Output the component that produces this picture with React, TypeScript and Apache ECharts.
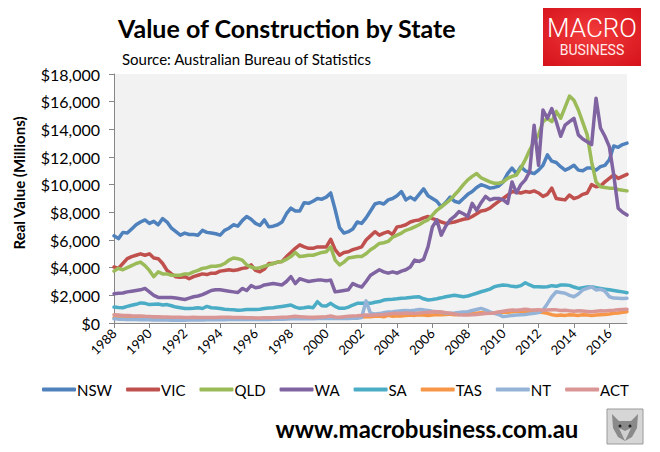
import React, { useEffect, useRef } from "react";
import * as echarts from "echarts";

// Quarterly real value of construction, $ millions, 1988 Q1 – 2017 Q1
const START_YEAR = 1988;
const N_POINTS = 117;

const seriesNames = ["NSW", "VIC", "QLD", "WA", "SA", "TAS", "NT", "ACT"];
const seriesColors = ["#4F81BD", "#C0504D", "#9BBB59", "#8064A2", "#4BACC6", "#F79646", "#95B3D7", "#D99694"];

const nsw = [
  6300, 6100, 6550, 6500,
  6800, 7100, 7300, 7450,
  7200, 7350, 7100, 7550,
  7300, 6850, 6600, 6350,
  6500, 6400, 6400, 6350,
  6700, 6550, 6500, 6450,
  6350, 6700, 6850, 7100,
  7000, 7400, 7700, 7500,
  7200, 7050, 7450, 6950,
  7000, 7100, 7300, 7900,
  8300, 8100, 8100, 8700,
  8650, 8800, 9000, 8950,
  9100, 9400, 8200, 6900,
  6500, 6600, 6800, 7300,
  7200, 7600, 8100, 8600,
  8700, 8600, 8900, 9000,
  9200, 9500, 8900, 9100,
  8900, 9300, 9700, 9200,
  9000, 8800, 8400, 8700,
  9100, 8800, 8700, 9000,
  9300, 9500, 9800, 10000,
  9900, 9750, 9800, 9900,
  10200, 10800, 11200, 10800,
  11300, 11000, 10900, 10800,
  11050, 11400, 12150, 11700,
  11600, 11300, 11050, 11200,
  11400, 11050, 11000, 11200,
  11200, 11050, 11300, 11400,
  11800, 12800, 12700, 12900,
  13000,
];

const vic = [
  4050, 3950, 4300, 4650,
  4800, 4900, 5000, 4900,
  5000, 4700, 4650, 4300,
  3800, 3550, 3350, 3300,
  3350, 3200, 3350, 3450,
  3550, 3500, 3600, 3600,
  3750, 3800, 3850, 3800,
  3850, 3950, 4000, 4200,
  3800, 3700, 3900, 4300,
  4300, 4400, 4450, 4800,
  5100, 5400, 5650, 5500,
  5400, 5400, 5500, 5500,
  5500, 6050, 5300, 4900,
  5100, 5150, 5300, 5400,
  5500, 6000, 6300, 6600,
  6350, 6500, 6600, 6400,
  6950, 7000, 7100, 7300,
  7400, 7450, 7600, 7700,
  7550, 7450, 7300, 7200,
  7250, 7300, 7400, 7500,
  7550, 7700, 7900, 8100,
  8150, 8300, 8550, 8800,
  9000, 9250, 9500, 9450,
  9400, 9500, 9450, 9550,
  9400, 9150, 9300, 9750,
  9000, 8950, 8900, 9250,
  9000, 9100, 9300, 9400,
  10000, 9850, 9900, 10200,
  10450, 10700, 10450, 10600,
  10750,
];

const qld = [
  3750, 3950, 3850, 4000,
  4150, 4300, 4400, 4150,
  3800, 3350, 3700, 3550,
  3550, 3450, 3450, 3450,
  3550, 3550, 3700, 3800,
  3950, 4000, 4100, 4100,
  4150, 4300, 4550, 4700,
  4650, 4550, 4200, 4050,
  3950, 4000, 4100, 4200,
  4300, 4400, 4450, 4600,
  4800, 5100, 4800, 4850,
  4900, 4900, 5000, 5100,
  5150, 5500, 4550, 4200,
  4400, 4700, 4750, 4800,
  4800, 5000, 5300, 5500,
  5750, 5800, 5900, 6200,
  6350, 6500, 6700, 6800,
  6950, 7100, 7300, 7450,
  7800, 8150, 8400, 8650,
  8900, 9250, 9600, 10000,
  10350, 10600, 10800, 10500,
  10350, 10200, 10100, 10100,
  10200, 10450, 10600, 10700,
  11200, 11800, 12500, 13100,
  13600, 14550, 14800, 14550,
  15300, 14800, 15600, 16400,
  16100, 15400, 14500, 13600,
  11650, 10200, 9850, 9800,
  9750, 9750, 9650, 9600,
  9550,
];

const wa = [
  2120, 2150, 2170, 2250,
  2300, 2350, 2400, 2500,
  2250, 2000, 1850, 1850,
  1850, 1850, 1800, 1750,
  1700, 1800, 1900, 1950,
  2050, 2200, 2350, 2400,
  2400, 2350, 2300, 2250,
  2200, 2500, 2350, 2700,
  2550, 2600, 2750, 2800,
  2850, 2800, 2750, 3000,
  3350, 2850, 3200, 3100,
  3000, 3050, 3100, 3100,
  3050, 3100, 2250, 2300,
  2350, 2400, 2850, 2700,
  2600, 3000, 3450, 3650,
  3850, 3700, 3600, 3700,
  3600, 3750, 3850, 4050,
  4550, 4450, 4600, 5500,
  6950, 7450, 6350, 7000,
  7450, 7700, 8050, 7900,
  7700, 8650, 8150, 8700,
  9150, 8900, 9000, 9000,
  8900, 8650, 10200, 9400,
  10000, 10350, 10950, 14300,
  11400, 15400, 14800, 15500,
  14550, 13500, 14300, 14550,
  14800, 13600, 13300, 13100,
  12900, 16250, 14100, 13500,
  12750, 10700, 8300, 8000,
  7800,
];

const sa = [
  1150, 1120, 1100, 1200,
  1280, 1350, 1450, 1420,
  1330, 1350, 1370, 1300,
  1330, 1250, 1150, 1100,
  1050, 1050, 1060, 1100,
  1050, 1200, 1100, 1080,
  1050, 1000, 970, 950,
  920, 940, 970, 970,
  970, 990, 1050, 1080,
  1100, 1150, 1200, 1250,
  1300, 1150, 1060, 1100,
  1150, 1100, 1540, 1250,
  1230, 1420, 1200, 1060,
  1060, 1150, 1300, 1420,
  1420, 1450, 1420, 1500,
  1550, 1660, 1700, 1720,
  1750, 1790, 1800, 1850,
  1880, 1900, 1750, 1660,
  1700, 1750, 1820, 1900,
  1950, 2000, 1950, 1900,
  1950, 2050, 2150, 2260,
  2350, 2450, 2620, 2700,
  2750, 2720, 2650, 2620,
  2700, 2910, 2750, 2620,
  2620, 2600, 2620, 2700,
  2650, 2750, 2750, 2720,
  2600, 2500, 2550, 2600,
  2620, 2550, 2500, 2450,
  2400, 2350, 2300, 2250,
  2190,
];

const tas = [
  380, 370, 380, 400,
  420, 420, 400, 400,
  380, 370, 350, 340,
  330, 320, 320, 310,
  310, 300, 310, 320,
  320, 330, 330, 340,
  340, 350, 350, 340,
  340, 330, 330, 320,
  320, 310, 310, 300,
  300, 310, 320, 330,
  350, 360, 370, 380,
  380, 390, 400, 400,
  400, 420, 380, 360,
  360, 380, 400, 420,
  440, 450, 460, 480,
  500, 450, 550, 480,
  520, 500, 550, 580,
  550, 600, 580, 550,
  580, 620, 600, 620,
  650, 600, 620, 660,
  700, 720, 700, 750,
  720, 700, 750, 780,
  800, 780, 820, 850,
  850, 800, 780, 820,
  800, 750, 700, 600,
  550, 580, 550, 600,
  580, 550, 600, 580,
  550, 580, 600, 620,
  650, 700, 720, 780,
  820,
];

const nt = [
  300, 280, 270, 260,
  250, 250, 240, 240,
  230, 220, 220, 210,
  210, 200, 200, 200,
  200, 210, 210, 220,
  220, 230, 230, 230,
  240, 240, 250, 250,
  250, 260, 260, 250,
  250, 250, 260, 260,
  270, 280, 280, 290,
  300, 300, 310, 300,
  300, 310, 320, 320,
  330, 340, 330, 320,
  320, 330, 340, 350,
  400, 1600, 700, 650,
  680, 750, 800, 820,
  850, 880, 900, 880,
  920, 980, 950, 900,
  850, 820, 780, 720,
  700, 720, 760, 800,
  820, 900, 980, 1060,
  950, 800, 700, 600,
  460, 500, 550, 580,
  600, 620, 660, 700,
  750, 940, 1400, 1900,
  2260, 2200, 2150, 2000,
  1900, 2100, 2390, 2500,
  2620, 2390, 2440, 2300,
  1900, 1800, 1790, 1780,
  1790,
];

const act = [
  600, 580, 550, 550,
  520, 500, 500, 480,
  470, 460, 450, 440,
  430, 420, 420, 410,
  400, 400, 410, 400,
  400, 390, 400, 400,
  410, 420, 410, 400,
  400, 390, 380, 380,
  370, 370, 380, 380,
  380, 400, 410, 420,
  450, 480, 460, 440,
  420, 400, 420, 440,
  460, 500, 440, 420,
  450, 480, 500, 520,
  550, 580, 560, 580,
  600, 620, 650, 680,
  700, 680, 720, 700,
  680, 720, 750, 780,
  800, 820, 800, 750,
  700, 650, 600, 580,
  580, 600, 620, 650,
  680, 700, 720, 800,
  850, 900, 940, 920,
  950, 990, 960, 940,
  950, 920, 940, 960,
  950, 900, 920, 880,
  850, 880, 860, 840,
  820, 850, 880, 860,
  900, 920, 950, 980,
  1000,
];

const seriesValues = [nsw, vic, qld, wa, sa, tas, nt, act];

const yTicks = { min: 0, max: 18000, interval: 2000 };

const quarterCategories: string[] = [];
for (let i = 0; i < N_POINTS; i++) {
  const y = START_YEAR + Math.floor(i / 4);
  quarterCategories.push(`${y} Q${(i % 4) + 1}`);
}

const FONT = "Lato, 'Open Sans', sans-serif";

function money(v: number): string {
  return "$" + String(Math.round(v)).replace(/\B(?=(\d{3})+(?!\d))/g, ",");
}

export default function App() {
  const ref = useRef<HTMLDivElement>(null);

  useEffect(() => {
    document.body.style.margin = "0";
    if (!ref.current) return;
    const chart = echarts.init(ref.current, null, { renderer: "svg" });
    const axisGray = "#868686";
    const option: any = {
      animation: false,
      backgroundColor: "#ffffff",
      textStyle: { fontFamily: FONT },
      grid: {
        left: 114,
        right: 33,
        top: 74,
        bottom: 129,
        show: true,
        backgroundColor: "#f2f2f2",
        borderWidth: 0,
      },
      xAxis: {
        type: "category",
        data: quarterCategories,
        boundaryGap: false,
        axisLine: { lineStyle: { color: axisGray, width: 1 } },
        axisTick: { interval: 7, length: 5, lineStyle: { color: axisGray } },
        axisLabel: {
          interval: 7,
          rotate: 45,
          margin: 8,
          color: "#000",
          fontSize: 13,
          fontFamily: FONT,
          formatter: (v: string) => v.slice(0, 4),
        },
        splitLine: { show: false },
      },
      yAxis: {
        type: "value",
        min: yTicks.min,
        max: yTicks.max,
        interval: yTicks.interval,
        axisLine: { show: true, lineStyle: { color: axisGray, width: 1 } },
        axisTick: { show: true, length: 5, lineStyle: { color: axisGray } },
        splitLine: { show: false },
        axisLabel: {
          margin: 14,
          color: "#000",
          fontSize: 16,
          fontFamily: FONT,
          formatter: (v: number) => money(v),
        },
      },
      legend: {
        left: 42,
        top: 382,
        width: 640,
        icon: "roundRect",
        itemWidth: 34,
        itemHeight: 4,
        itemGap: 14,
        padding: 0,
        textStyle: { fontSize: 15, color: "#000", fontFamily: FONT, padding: [0, 0, 0, -4] },
        data: seriesNames,
      },
      series: seriesNames.map((name, i) => ({
        name,
        type: "line",
        data: seriesValues[i],
        symbol: "none",
        showSymbol: false,
        color: seriesColors[i],
        lineStyle: { width: 3.5, color: seriesColors[i], join: "round", cap: "round" },
        z: 2 + i,
      })),
      graphic: [
        {
          type: "text",
          x: 118,
          y: 28,
          style: {
            text: "Value of Construction by State",
            font: `bold 25px ${FONT}`,
            fill: "#000",
            textVerticalAlign: "middle",
          },
        },
        {
          type: "text",
          x: 122,
          y: 59,
          style: {
            text: "Source: Australian Bureau of Statistics",
            font: `15px ${FONT}`,
            fill: "#000",
            textVerticalAlign: "middle",
          },
        },
        {
          type: "rect",
          shape: { x: 543, y: 8, width: 98, height: 58 },
          style: {
            fill: new echarts.graphic.RadialGradient(0.5, 0.45, 0.75, [
              { offset: 0, color: "#f23b3b" },
              { offset: 1, color: "#d4111a" },
            ]),
          },
        },
        {
          type: "text",
          x: 592,
          y: 28,
          style: {
            text: "MACRO",
            font: "300 26px Roboto",
            fill: "#ffffff",
            textAlign: "center",
            textVerticalAlign: "middle",
          },
        },
        {
          type: "text",
          x: 592,
          y: 50,
          style: {
            text: "BUSINESS",
            font: "14px Roboto",
            fill: "#ffe9e9",
            textAlign: "center",
            textVerticalAlign: "middle",
          },
        },
        {
          type: "text",
          x: 19,
          y: 183,
          rotation: Math.PI / 2,
          style: {
            text: "Real Value (Millions)",
            font: `bold 15px ${FONT}`,
            fill: "#000",
            textAlign: "center",
            textVerticalAlign: "middle",
          },
        },
        {
          type: "text",
          x: 427,
          y: 428,
          style: {
            text: "www.macrobusiness.com.au",
            font: `bold 24px ${FONT}`,
            fill: "#000",
            textAlign: "center",
            textVerticalAlign: "middle",
          },
        },
        {
          type: "group",
          children: [
            {
              type: "rect",
              shape: { x: 607, y: 409, width: 36, height: 35 },
              style: { fill: "#d6d6d6", stroke: "#9a9a9a", lineWidth: 1 },
            },
            {
              type: "polygon",
              shape: {
                points: [
                  [612, 414], [619, 421], [631, 421], [638, 414], [637, 428],
                  [632, 437], [625, 441], [618, 437], [613, 428],
                ],
              },
              style: { fill: "#8a8a8a" },
            },
            {
              type: "polygon",
              shape: { points: [[619, 428], [625, 441], [631, 428], [625, 431]] },
              style: { fill: "#cfcfcf" },
            },
            { type: "circle", shape: { cx: 620, cy: 426, r: 1.5 }, style: { fill: "#222" } },
            { type: "circle", shape: { cx: 630, cy: 426, r: 1.5 }, style: { fill: "#222" } },
          ],
        },
      ],
    };
    chart.setOption(option);
    return () => chart.dispose();
  }, []);

  return <div ref={ref} style={{ width: 660, height: 452 }} />;
}
